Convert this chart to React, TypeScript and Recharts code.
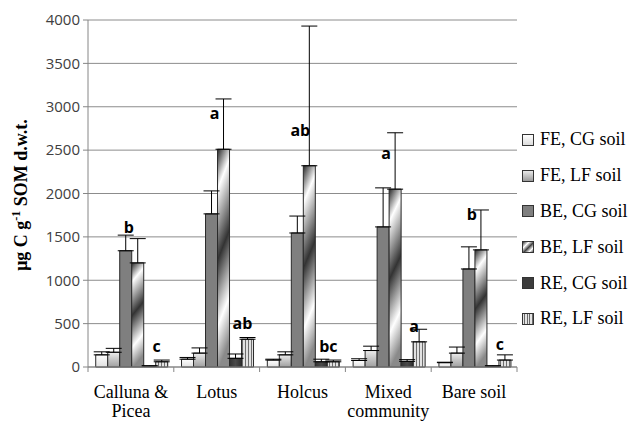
import React from "react";
import { BarChart, Bar, XAxis, YAxis, CartesianGrid, ErrorBar, LabelList } from "recharts";

const categories = ["Calluna &\nPicea", "Lotus", "Holcus", "Mixed\ncommunity", "Bare soil"];
const yTicks = [0, 500, 1000, 1500, 2000, 2500, 3000, 3500, 4000];

const feCg = [140, 90, 80, 75, 50];
const feCgErr = [35, 20, 10, 20, 5];
const feLf = [170, 160, 140, 190, 160];
const feLfErr = [45, 60, 35, 50, 70];
const beCg = [1340, 1765, 1545, 1615, 1130];
const beCgErr = [180, 265, 195, 450, 255];
const beLf = [1200, 2510, 2320, 2050, 1350];
const beLfErr = [280, 580, 1610, 650, 460];
const reCg = [10, 100, 60, 65, 10];
const reCgErr = [5, 50, 30, 20, 5];
const reLf = [60, 320, 60, 290, 80];
const reLfErr = [20, 20, 20, 145, 60];
const beLfSig = ["b", "a", "ab", "a", "b"];
const reLfSig = ["c", "ab", "bc", "a", "c"];

const data = categories.map((c, i) => ({
  cat: c,
  feCg: feCg[i], feCgErr: [0, feCgErr[i]],
  feLf: feLf[i], feLfErr: [0, feLfErr[i]],
  beCg: beCg[i], beCgErr: [0, beCgErr[i]],
  beLf: beLf[i], beLfErr: [0, beLfErr[i]],
  reCg: reCg[i], reCgErr: [0, reCgErr[i]],
  reLf: reLf[i], reLfErr: [0, reLfErr[i]],
  beLfSig: beLfSig[i],
  reLfSig: reLfSig[i],
}));

const W = 635;
const H = 423;
const XH = 56;
const M = { top: 20, right: 118, bottom: 0, left: 28 };
const YW = 60;
const PLOT_L = M.left + YW;
const PLOT_R = W - M.right;
const PLOT_B = H - M.bottom - XH;
const BAND = (PLOT_R - PLOT_L) / categories.length;

const series = [
  { key: "feCg", name: "FE, CG soil", fill: "url(#gFeCg)", css: "linear-gradient(#ffffff, #dcdcdc)" },
  { key: "feLf", name: "FE, LF soil", fill: "url(#gFeLf)", css: "linear-gradient(#e8e8e8, #9a9a9a)" },
  { key: "beCg", name: "BE, CG soil", fill: "#7f7f7f", css: "#7f7f7f" },
  { key: "beLf", name: "BE, LF soil", fill: "url(#gBeLf)", css: "linear-gradient(135deg, #333 0%, #fff 30%, #444 55%, #fff 80%, #555 100%)" },
  { key: "reCg", name: "RE, CG soil", fill: "url(#gReCg)", css: "#3c3c3c" },
  { key: "reLf", name: "RE, LF soil", fill: "url(#pReLf)", css: "repeating-linear-gradient(90deg, #e4e4e4 0px, #e4e4e4 1.5px, #6a6a6a 1.5px, #6a6a6a 2.5px)" },
];

const XTick = (props: any) => {
  const { x, payload, index } = props;
  const lines = String(payload.value).split("\n");
  const left = x - BAND / 2;
  return (
    <g>
      <line x1={left} y1={PLOT_B} x2={left} y2={PLOT_B + 5} stroke="#868686" />
      {index === categories.length - 1 && (
        <line x1={x + BAND / 2} y1={PLOT_B} x2={x + BAND / 2} y2={PLOT_B + 5} stroke="#868686" />
      )}
      <text x={x} y={PLOT_B + 31} textAnchor="middle" fontFamily="'Liberation Serif', serif" fontSize={18} fill="#000">
        {lines.map((l, i) => (
          <tspan key={i} x={x} dy={i === 0 ? 0 : 19}>{l}</tspan>
        ))}
      </text>
    </g>
  );
};

const YLabel = () => (
  <text
    transform="translate(27,195) rotate(-90)"
    textAnchor="middle"
    fontFamily="'Liberation Serif', serif"
    fontWeight="bold"
    fontSize={18}
    fill="#000"
  >
    μg C g<tspan dy={-7} fontSize={12}>-1</tspan><tspan dy={7}> SOM d.w.t.</tspan>
  </text>
);

const sigLabel = (dyBase: number, dx: number) => (props: any) => {
  const { x, y, value } = props;
  return (
    <text x={x + dx} y={y + dyBase} textAnchor="middle" fontFamily="'Open Sans', sans-serif" fontWeight="bold" fontSize={16} fill="#000">
      {value}
    </text>
  );
};

export default function App() {
  return (
    <div style={{ position: "absolute", left: 0, top: 0, width: W, height: H, background: "#fff" }}>
      <BarChart width={W} height={H} data={data} margin={M} barCategoryGap="9%" barGap={0}>
        <defs>
          <linearGradient id="gFeCg" x1="0" y1="0" x2="0" y2="1">
            <stop offset="0" stopColor="#ffffff" />
            <stop offset="1" stopColor="#e0e0e0" />
          </linearGradient>
          <linearGradient id="gFeLf" x1="0" y1="0" x2="0" y2="1">
            <stop offset="0" stopColor="#ededed" />
            <stop offset="0.5" stopColor="#c4c4c4" />
            <stop offset="1" stopColor="#a0a0a0" />
          </linearGradient>
          <linearGradient id="gBeLf" x1="0" y1="0" x2="0.14" y2="1">
            <stop offset="0" stopColor="#262626" />
            <stop offset="0.18" stopColor="#ffffff" />
            <stop offset="0.5" stopColor="#333333" />
            <stop offset="0.8" stopColor="#ffffff" />
            <stop offset="1" stopColor="#8a8a8a" />
          </linearGradient>
          <linearGradient id="gReCg" x1="0" y1="0" x2="1" y2="0">
            <stop offset="0" stopColor="#333333" />
            <stop offset="0.5" stopColor="#4a4a4a" />
            <stop offset="1" stopColor="#2e2e2e" />
          </linearGradient>
          <pattern id="pReLf" width="3" height="4" patternUnits="userSpaceOnUse">
            <rect width="3" height="4" fill="#e2e2e2" />
            <rect x="2" width="1" height="4" fill="#6e6e6e" />
          </pattern>
        </defs>
        <CartesianGrid vertical={false} stroke="#8c8c8c" strokeWidth={1} />
        <XAxis
          dataKey="cat"
          tick={<XTick />}
          tickLine={false}
          axisLine={{ stroke: "#868686" }}
          interval={0}
          height={XH}
        />
        <YAxis
          domain={[0, 4000]}
          ticks={yTicks}
          width={YW}
          tickSize={5}
          tickMargin={3}
          tickLine={{ stroke: "#868686" }}
          axisLine={{ stroke: "#868686" }}
          tick={{ fill: "#404040", fontSize: 15, fontFamily: "'Open Sans', sans-serif" }}
          label={<YLabel />}
        />
        {series.map((s) => (
          <Bar key={s.key} dataKey={s.key} name={s.name} fill={s.fill} stroke="#2a2a2a" strokeWidth={1} isAnimationActive={false}>
            <ErrorBar dataKey={s.key + "Err"} width={8} stroke="#000" strokeWidth={1} direction="y" />
            {s.key === "beLf" && <LabelList dataKey="beLfSig" content={sigLabel(-30, -3)} />}
            {s.key === "reLf" && <LabelList dataKey="reLfSig" content={sigLabel(-10, 1)} />}
          </Bar>
        ))}
      </BarChart>
      <div style={{ position: "absolute", left: 522, top: 122, fontFamily: "'Liberation Serif', serif", fontSize: 18, color: "#000" }}>
        {series.map((s) => (
          <div key={s.key} style={{ display: "flex", alignItems: "center", height: 35.8, whiteSpace: "nowrap" }}>
            <span style={{ display: "inline-block", width: 10, height: 10, border: "1px solid #333", background: s.css, marginRight: 6 }} />
            <span>{s.name}</span>
          </div>
        ))}
      </div>
    </div>
  );
}
